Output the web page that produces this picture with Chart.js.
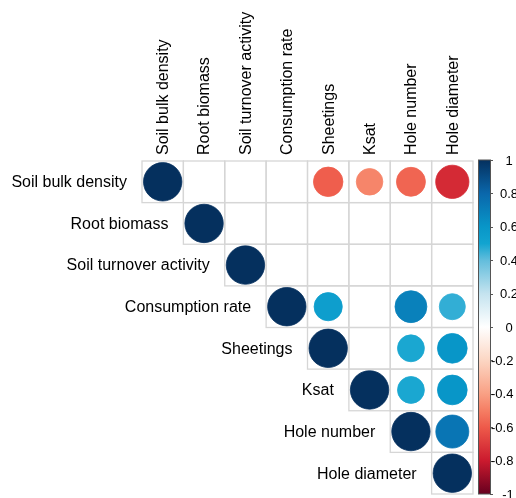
<!DOCTYPE html>
<html>
<head>
<meta charset="utf-8">
<script src="https://cdn.jsdelivr.net/npm/chart.js@4.4.1/dist/chart.umd.min.js"></script>
<style>
  html, body { margin: 0; padding: 0; background: #fff; }
  #wrap { width: 516px; height: 498px; }
</style>
</head>
<body>
<div id="wrap"><canvas id="corr" width="516" height="498"></canvas></div>
<script>
// variables, in the same order on both axes
const variables = ['Soil bulk density', 'Root biomass', 'Soil turnover activity', 'Consumption rate',
                   'Sheetings', 'Ksat', 'Hole number', 'Hole diameter'];

// upper triangle of the correlation matrix, one row per variable (null = blank cell)
const rowSoilBulkDensity = [1, null, null, null, -0.59, -0.48, -0.57, -0.75];
const rowRootBiomass     = [null, 1, null, null, null, null, null, null];
const rowSoilTurnover    = [null, null, 1, null, null, null, null, null];
const rowConsumption     = [null, null, null, 1, 0.54, null, 0.69, 0.46];
const rowSheetings       = [null, null, null, null, 1, null, 0.49, 0.6];
const rowKsat            = [null, null, null, null, null, 1, 0.49, 0.6];
const rowHoleNumber      = [null, null, null, null, null, null, 1, 0.74];
const rowHoleDiameter    = [null, null, null, null, null, null, null, 1];

// colour legend ticks
const legendTicks = [1, 0.8, 0.6, 0.4, 0.2, 0, -0.2, -0.4, -0.6, -0.8, -1];

const rows = [rowSoilBulkDensity, rowRootBiomass, rowSoilTurnover, rowConsumption,
              rowSheetings, rowKsat, rowHoleNumber, rowHoleDiameter];

// palette
const palette = [
    [-1, '#67001F'], [-0.8, '#CB1A2E'], [-0.6, '#EE5A4A'], [-0.5, '#F57E64'], [-0.4, '#F9A084'],
    [-0.2, '#FCD6C3'], [0, '#FFFFFF'], [0.2, '#C4E3EF'], [0.4, '#62BDDC'], [0.5, '#12A4D0'],
    [0.6, '#0896C8'], [0.8, '#0A67AB'], [1, '#05305E']
];

function hexToRgb(h) {
    return [parseInt(h.substr(1, 2), 16), parseInt(h.substr(3, 2), 16), parseInt(h.substr(5, 2), 16)];
}
function colorFor(v) {
    for (let k = 0; k < palette.length - 1; k++) {
        const a = palette[k], b = palette[k + 1];
        if (v >= a[0] && v <= b[0]) {
            const t = (v - a[0]) / (b[0] - a[0]);
            const ca = hexToRgb(a[1]), cb = hexToRgb(b[1]);
            const c = ca.map((x, i) => Math.round(x + (cb[i] - x) * t));
            return 'rgb(' + c.join(',') + ')';
        }
    }
    return palette[palette.length - 1][1];
}

const points = [];
rows.forEach(function (row, i) {
    row.forEach(function (v, j) {
        if (v !== null) points.push({x: j, y: i, v: v});
    });
});

const FONT = '"Liberation Sans", Arial, sans-serif';

function cellSize(chart) {
    const xs = chart.scales.x;
    return xs.getPixelForValue(1) - xs.getPixelForValue(0);
}

// grid of the upper triangle
const cellGrid = {
    id: 'cellGrid',
    beforeDatasetsDraw(chart) {
        const ctx = chart.ctx, xs = chart.scales.x, ys = chart.scales.y;
        ctx.save();
        ctx.strokeStyle = '#D6D6D6';
        ctx.lineWidth = 1.3;
        for (let i = 0; i < variables.length; i++) {
            for (let j = i; j < variables.length; j++) {
                const x0 = xs.getPixelForValue(j - 0.5), x1 = xs.getPixelForValue(j + 0.5);
                const y0 = ys.getPixelForValue(i - 0.5), y1 = ys.getPixelForValue(i + 0.5);
                ctx.strokeRect(x0, y0, x1 - x0, y1 - y0);
            }
        }
        ctx.restore();
    }
};

// column names on top, row names next to the diagonal cell
const varNames = {
    id: 'varNames',
    afterDraw(chart) {
        const ctx = chart.ctx, xs = chart.scales.x, ys = chart.scales.y;
        ctx.save();
        ctx.font = '16px ' + FONT;
        ctx.fillStyle = '#000';
        ctx.textBaseline = 'middle';
        ctx.textAlign = 'right';
        variables.forEach(function (name, i) {
            ctx.fillText(name, xs.getPixelForValue(i - 0.5) - 15, ys.getPixelForValue(i) + 1);
        });
        ctx.textAlign = 'left';
        variables.forEach(function (name, i) {
            ctx.save();
            ctx.translate(xs.getPixelForValue(i) + 1, chart.chartArea.top - 6);
            ctx.rotate(-Math.PI / 2);
            ctx.fillText(name, 0, 0);
            ctx.restore();
        });
        ctx.restore();
    }
};

// colour legend on the right
const colorLegend = {
    id: 'colorLegend',
    afterDraw(chart) {
        const ctx = chart.ctx, cs = chart.scales.cb;
        const left = chart.chartArea.right + 5, w = 12;
        const top = cs.getPixelForValue(1) - 1, bottom = cs.getPixelForValue(-1);
        ctx.save();
        const grad = ctx.createLinearGradient(0, top, 0, bottom);
        palette.forEach(function (p) { grad.addColorStop((1 - p[0]) / 2, p[1]); });
        ctx.fillStyle = grad;
        ctx.fillRect(left, top, w, bottom - top);
        ctx.strokeStyle = '#555';
        ctx.lineWidth = 1;
        ctx.strokeRect(left + 0.5, top, w, bottom - top);
        ctx.font = '13px ' + FONT;
        ctx.fillStyle = '#000';
        ctx.textBaseline = 'middle';
        legendTicks.forEach(function (t) {
            const y = top + (1 - t) / 2 * (bottom - top);
            ctx.beginPath();
            ctx.moveTo(left + w, Math.round(y) + 0.5);
            ctx.lineTo(left + w + 3, Math.round(y) + 0.5);
            ctx.stroke();
            const s = String(t);
            if (Number.isInteger(t)) {
                ctx.textAlign = 'center';
                ctx.fillText(s, t < 0 ? 508 : 509, y + 1);
            } else {
                ctx.textAlign = 'left';
                ctx.fillText(s, t < 0 ? 491 : 500, y + 1);
            }
        });
        ctx.restore();
    }
};

new Chart(document.getElementById('corr').getContext('2d'), {
    type: 'scatter',
    data: {
        datasets: [{
            data: points,
            pointRadius: function (c) {
                return Math.sqrt(Math.abs(c.raw.v)) * cellSize(c.chart) * 0.464;
            },
            backgroundColor: function (c) { return colorFor(c.raw.v); },
            borderColor: function (c) { return colorFor(c.raw.v); },
            borderWidth: 0.8
        }]
    },
    options: {
        responsive: false,
        animation: false,
        events: [],
        layout: { padding: { left: 142, right: 43, top: 0, bottom: 4 } },
        plugins: { legend: { display: false }, tooltip: { enabled: false } },
        scales: {
            x: {
                type: 'linear',
                position: 'top',
                min: -0.5,
                max: 7.5,
                grid: { display: false, drawTicks: false },
                border: { display: false },
                ticks: { display: false },
                afterFit: function (s) { s.height = 161; }
            },
            y: {
                type: 'linear',
                reverse: true,
                min: -0.5,
                max: 7.5,
                display: false
            },
            cb: {
                type: 'linear',
                axis: 'y',
                position: 'right',
                min: -1,
                max: 1,
                display: false
            }
        }
    },
    plugins: [cellGrid, varNames, colorLegend]
});
</script>
</body>
</html>
